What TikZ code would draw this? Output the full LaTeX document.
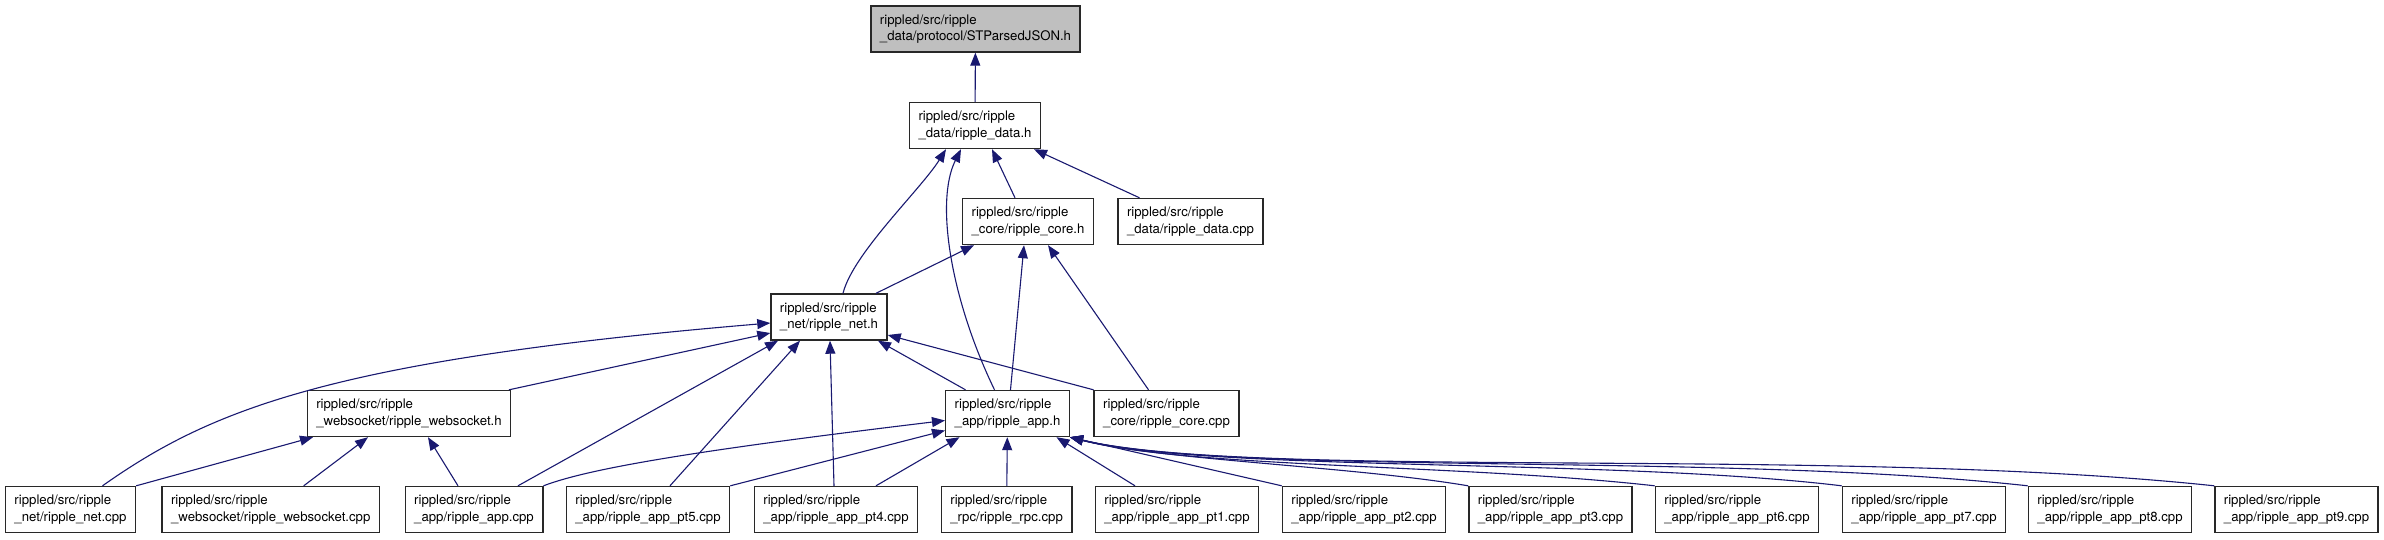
\documentclass[tikz,border=0pt]{standalone}
\usepackage{fontspec}
\setmainfont{TeX Gyre Heros}
\usetikzlibrary{arrows.meta,positioning}
\definecolor{edgeblue}{RGB}{25,25,112}
\definecolor{boxline}{RGB}{40,40,40}
\definecolor{rootgray}{RGB}{191,191,191}

\begin{document}
\begin{tikzpicture}[
    x=1pt, y=-1pt,
    fbox/.style={draw=boxline,line width=1.4pt,fill=white,align=left,
                 inner xsep=9pt,inner ysep=0pt,minimum height=46pt,
                 font=\fontsize{13.2}{16.7}\selectfont},
    arr/.style={->,line width=1.1pt,draw=edgeblue,
                >={Triangle[length=13pt,width=10pt]}},
  ]
  \useasboundingbox (0,0) rectangle (2384,539);

  %% ── Header row ────────────────────────────────────────────────────────────
  \node[fbox,fill=rootgray] (json) at (975.5,29)
      {rippled/src/ripple\\\_data/protocol/STParsedJSON.h};
  \node[fbox] (data)    at (975,125.5)  {rippled/src/ripple\\\_data/ripple\_data.h};
  \node[fbox] (core)    at (1028,221.5) {rippled/src/ripple\\\_core/ripple\_core.h};
  \node[fbox] (datacpp) at (1190.5,221.5) {rippled/src/ripple\\\_data/ripple\_data.cpp};
  \node[fbox] (net)     at (829,317)    {rippled/src/ripple\\\_net/ripple\_net.h};

  %% ── Middle row ────────────────────────────────────────────────────────────
  \node[fbox] (ws)      at (409,413.5)  {rippled/src/ripple\\\_websocket/ripple\_websocket.h};
  \node[fbox] (app)     at (1007.5,413.5) {rippled/src/ripple\\\_app/ripple\_app.h};
  \node[fbox] (corecpp) at (1166.5,413.5) {rippled/src/ripple\\\_core/ripple\_core.cpp};

  %% ── Source files ──────────────────────────────────────────────────────────
  \node[fbox] (netcpp) at (70.5,509.5)  {rippled/src/ripple\\\_net/ripple\_net.cpp};
  \node[fbox] (wscpp)  at (270.7,509.5) {rippled/src/ripple\\\_websocket/ripple\_websocket.cpp};
  \node[fbox] (appcpp) at (474,509.5)   {rippled/src/ripple\\\_app/ripple\_app.cpp};
  \node[fbox] (pt5)    at (648,509.5)   {rippled/src/ripple\\\_app/ripple\_app\_pt5.cpp};
  \node[fbox] (pt4)    at (836,509.5)   {rippled/src/ripple\\\_app/ripple\_app\_pt4.cpp};
  \node[fbox] (rpc)    at (1006.6,509.5) {rippled/src/ripple\\\_rpc/ripple\_rpc.cpp};
  \node[fbox] (pt1)    at (1177,509.5)  {rippled/src/ripple\\\_app/ripple\_app\_pt1.cpp};
  \node[fbox] (pt2)    at (1364,509.5)  {rippled/src/ripple\\\_app/ripple\_app\_pt2.cpp};
  \node[fbox] (pt3)    at (1550.5,509.5) {rippled/src/ripple\\\_app/ripple\_app\_pt3.cpp};
  \node[fbox] (pt6)    at (1737,509.5)  {rippled/src/ripple\\\_app/ripple\_app\_pt6.cpp};
  \node[fbox] (pt7)    at (1924,509.5)  {rippled/src/ripple\\\_app/ripple\_app\_pt7.cpp};
  \node[fbox] (pt8)    at (2110,509.5)  {rippled/src/ripple\\\_app/ripple\_app\_pt8.cpp};
  \node[fbox] (pt9)    at (2296.5,509.5) {rippled/src/ripple\\\_app/ripple\_app\_pt9.cpp};

  %% ── Edges into the upper headers ──────────────────────────────────────────
  \draw[arr] (data) -- (json);
  \draw[arr] ([xshift=-13pt]core.north) -- ([xshift=17pt]data.south);
  \draw[arr] ([xshift=-51pt]datacpp.north) -- ([xshift=59pt]data.south);
  \draw[arr] ([xshift=14pt]net.north) .. controls +(10,-40) and +(-25,40)
      .. ([xshift=-29pt]data.south);
  \draw[arr] ([xshift=-13pt]app.north) .. controls +(-44,-91) and +(-26,52)
      .. ([xshift=-14pt]data.south);
  \draw[arr] ([xshift=47pt]net.north) -- ([xshift=-54pt]core.south);
  \draw[arr] ([xshift=3pt]app.north) -- ([xshift=-4pt]core.south);
  \draw[arr] ([xshift=-18pt]corecpp.north) -- ([xshift=20pt]core.south);

  %% ── Edges into ripple_net.h ───────────────────────────────────────────────
  \draw[arr] ([xshift=100pt]ws.north) -- ([yshift=-16pt]net.west);
  \draw[arr] ([xshift=32pt]netcpp.north) .. controls (210,410) and (330,360)
      .. ([yshift=-6pt]net.west);
  \draw[arr] ([xshift=44pt]appcpp.north) -- ([xshift=-51pt]net.south);
  \draw[arr] ([xshift=22pt]pt5.north) -- ([xshift=-29pt]net.south);
  \draw[arr] ([xshift=-2pt]pt4.north) -- ([xshift=1pt]net.south);
  \draw[arr] ([xshift=-42pt]app.north) -- ([xshift=49pt]net.south);
  \draw[arr] (corecpp.north west) -- ([yshift=-18pt]net.east);

  %% ── Edges into ripple_websocket.h ─────────────────────────────────────────
  \draw[arr] (netcpp.north east) -- ([xshift=-96pt]ws.south);
  \draw[arr] ([xshift=33pt]wscpp.north) -- ([xshift=-41pt]ws.south);
  \draw[arr] ([xshift=-16pt]appcpp.north) -- ([xshift=19pt]ws.south);

  %% ── Edges into ripple_app.h ───────────────────────────────────────────────
  \draw[arr] (appcpp.north east) .. controls (590,468) and (700,450)
      .. ([yshift=-7pt]app.west);
  \draw[arr] (pt5.north east) -- ([yshift=-17pt]app.west);
  \draw[arr] ([xshift=40pt]pt4.north) -- ([xshift=-48pt]app.south);
  \draw[arr] (rpc) -- (app);
  \draw[arr] ([xshift=-42pt]pt1.north) -- ([xshift=49pt]app.south);
  \draw[arr] (pt2.north west) -- (app.south east);
  \draw[arr] (pt3.north west) .. controls (1350,466) and (1160,460) .. (app.south east);
  \draw[arr] (pt6.north west) .. controls (1460,464) and (1190,468) .. (app.south east);
  \draw[arr] (pt7.north west) .. controls (1610,458) and (1210,472) .. (app.south east);
  \draw[arr] (pt8.north west) .. controls (1720,452) and (1230,476) .. (app.south east);
  \draw[arr] (pt9.north west) .. controls (1840,446) and (1250,480) .. (app.south east);

\end{tikzpicture}
\end{document}
